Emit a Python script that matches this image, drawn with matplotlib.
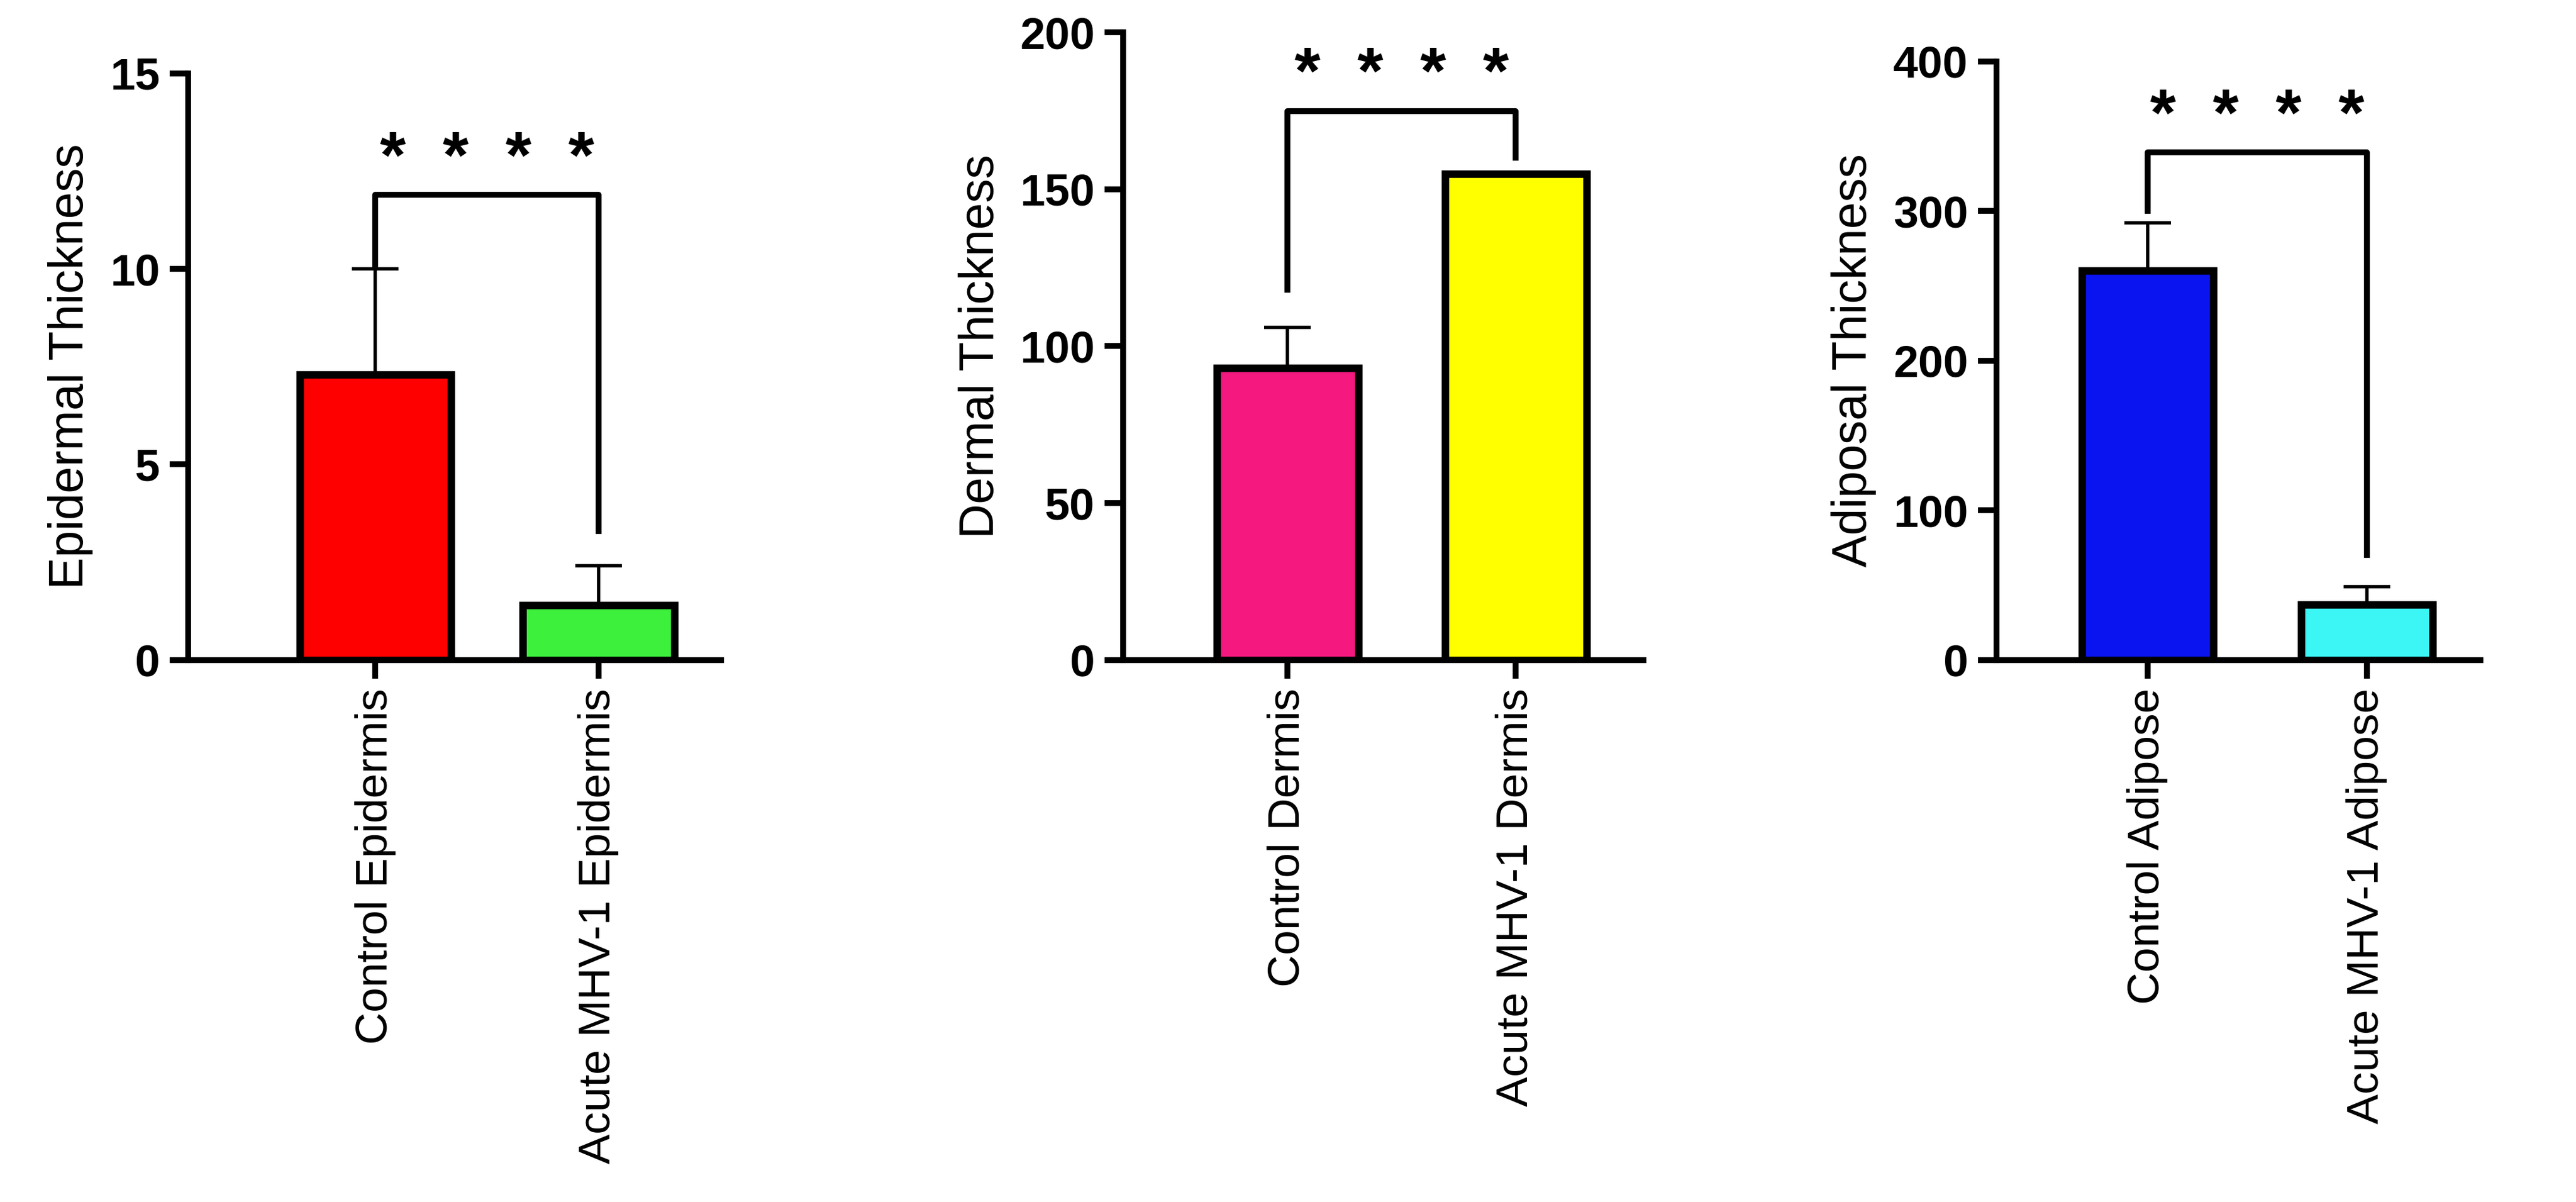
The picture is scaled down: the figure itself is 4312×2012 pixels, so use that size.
import matplotlib
matplotlib.use("Agg")
import matplotlib.pyplot as plt

plt.rcParams["font.family"] = ["Liberation Sans", "DejaVu Sans"]

# data
epi_labels = ["Control Epidermis", "Acute MHV-1 Epidermis"]
epi_means = [7.3, 1.4]
epi_err = [2.7, 1.0]
derm_labels = ["Control Dermis", "Acute MHV-1 Dermis"]
derm_means = [93, 155]
derm_err = [13, 0]
adip_labels = ["Control Adipose", "Acute MHV-1 Adipose"]
adip_means = [260, 37]
adip_err = [32, 12]

panels = [
    dict(labels=epi_labels, means=epi_means, err=epi_err, colors=["#ff0000", "#3cf03c"],
         ylabel="Epidermal Thickness", ylim=15, yticks=[0, 5, 10, 15],
         bracket=(11.9, 10.1, 3.3), rect=[0.073, 0.451, 0.207, 0.488],
         xlim=(-0.84, 1.55), width=0.68),
    dict(labels=derm_labels, means=derm_means, err=derm_err, colors=["#f5187e", "#ffff00"],
         ylabel="Dermal Thickness", ylim=200, yticks=[0, 50, 100, 150, 200],
         bracket=(175, 118, 160), rect=[0.436, 0.451, 0.202, 0.522],
         xlim=(-0.72, 1.56), width=0.62),
    dict(labels=adip_labels, means=adip_means, err=adip_err, colors=["#0a14f0", "#3cf5f5"],
         ylabel="Adiposal Thickness", ylim=400, yticks=[0, 100, 200, 300, 400],
         bracket=(339, 300, 70), rect=[0.775, 0.451, 0.188, 0.498],
         xlim=(-0.69, 1.52), width=0.6),
]

fig = plt.figure(figsize=(43.12, 20.12), dpi=100, facecolor="white")
for p in panels:
    ax = fig.add_axes(p["rect"])
    x = [0, 1]
    ax.bar(x, p["means"], width=p["width"], color=p["colors"], edgecolor="black",
           linewidth=9, zorder=3)
    ax.errorbar(x, p["means"], yerr=[[0, 0], p["err"]], fmt="none", ecolor="black",
                elinewidth=4, capsize=28, capthick=4, zorder=2)
    top, l, r = p["bracket"]
    ax.plot([0, 0, 1, 1], [l, top, top, r], color="black", lw=7, clip_on=False)
    ax.text(0.5, top + p["ylim"] * 0.005, "*  *  *  *", ha="center", va="bottom",
            fontsize=80, fontweight="bold")
    ax.set_xlim(*p["xlim"])
    ax.set_ylim(0, p["ylim"])
    ax.set_yticks(p["yticks"])
    ax.set_xticks(x)
    ax.set_xticklabels(p["labels"], rotation=90, fontsize=54)
    for t in ax.get_yticklabels():
        t.set_fontweight("bold")
        t.set_fontsize(54)
    ax.set_ylabel(p["ylabel"], fontsize=58, labelpad=20)
    for s in ["top", "right"]:
        ax.spines[s].set_visible(False)
    for s in ["left", "bottom"]:
        ax.spines[s].set_linewidth(7)
    ax.tick_params(axis="both", width=7, length=22, pad=12)

fig.savefig("out.png", dpi=100, facecolor="white")
